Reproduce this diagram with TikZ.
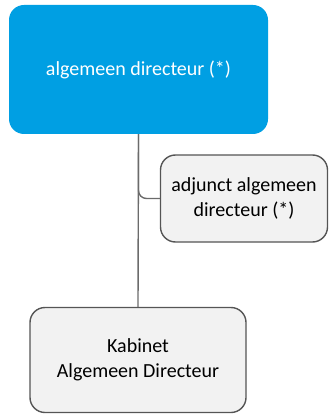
\documentclass[tikz,border=0pt]{standalone}
\usepackage{fontspec}
\setmainfont{Carlito}
\definecolor{boxblue}{HTML}{009FE3}
\definecolor{boxgray}{HTML}{F2F2F2}
\definecolor{edgegray}{HTML}{555555}
\definecolor{linegray}{HTML}{6B6B6B}
\begin{document}
\begin{tikzpicture}[x=1pt,y=-1pt,
  box/.style={draw=edgegray,line width=1.4pt,fill=boxgray,rounded corners=15pt,
    align=center,inner sep=0pt,font=\fontsize{20}{24.5}\selectfont,text=black},
  bluebox/.style={fill=boxblue,rounded corners=15pt,align=center,inner sep=0pt,
    font=\fontsize{20}{24.5}\selectfont,text=white},
  conn/.style={draw=linegray,line width=1.4pt}]
\useasboundingbox (0,0) rectangle (329,414);
\node[bluebox,minimum width=259pt,minimum height=129pt] (ad) at (138.5,69.5) {algemeen directeur (*)};
\node[box,minimum width=167pt,minimum height=87pt] (adj) at (244,198.5) {adjunct algemeen\\directeur (*)};
\node[box,minimum width=216pt,minimum height=105pt] (kab) at (138,360) {Kabinet\\Algemeen Directeur};
\draw[conn] (ad.south) -- (kab.north);
\draw[conn,rounded corners=8pt] (ad.south) |- (adj.west);
\end{tikzpicture}
\end{document}
